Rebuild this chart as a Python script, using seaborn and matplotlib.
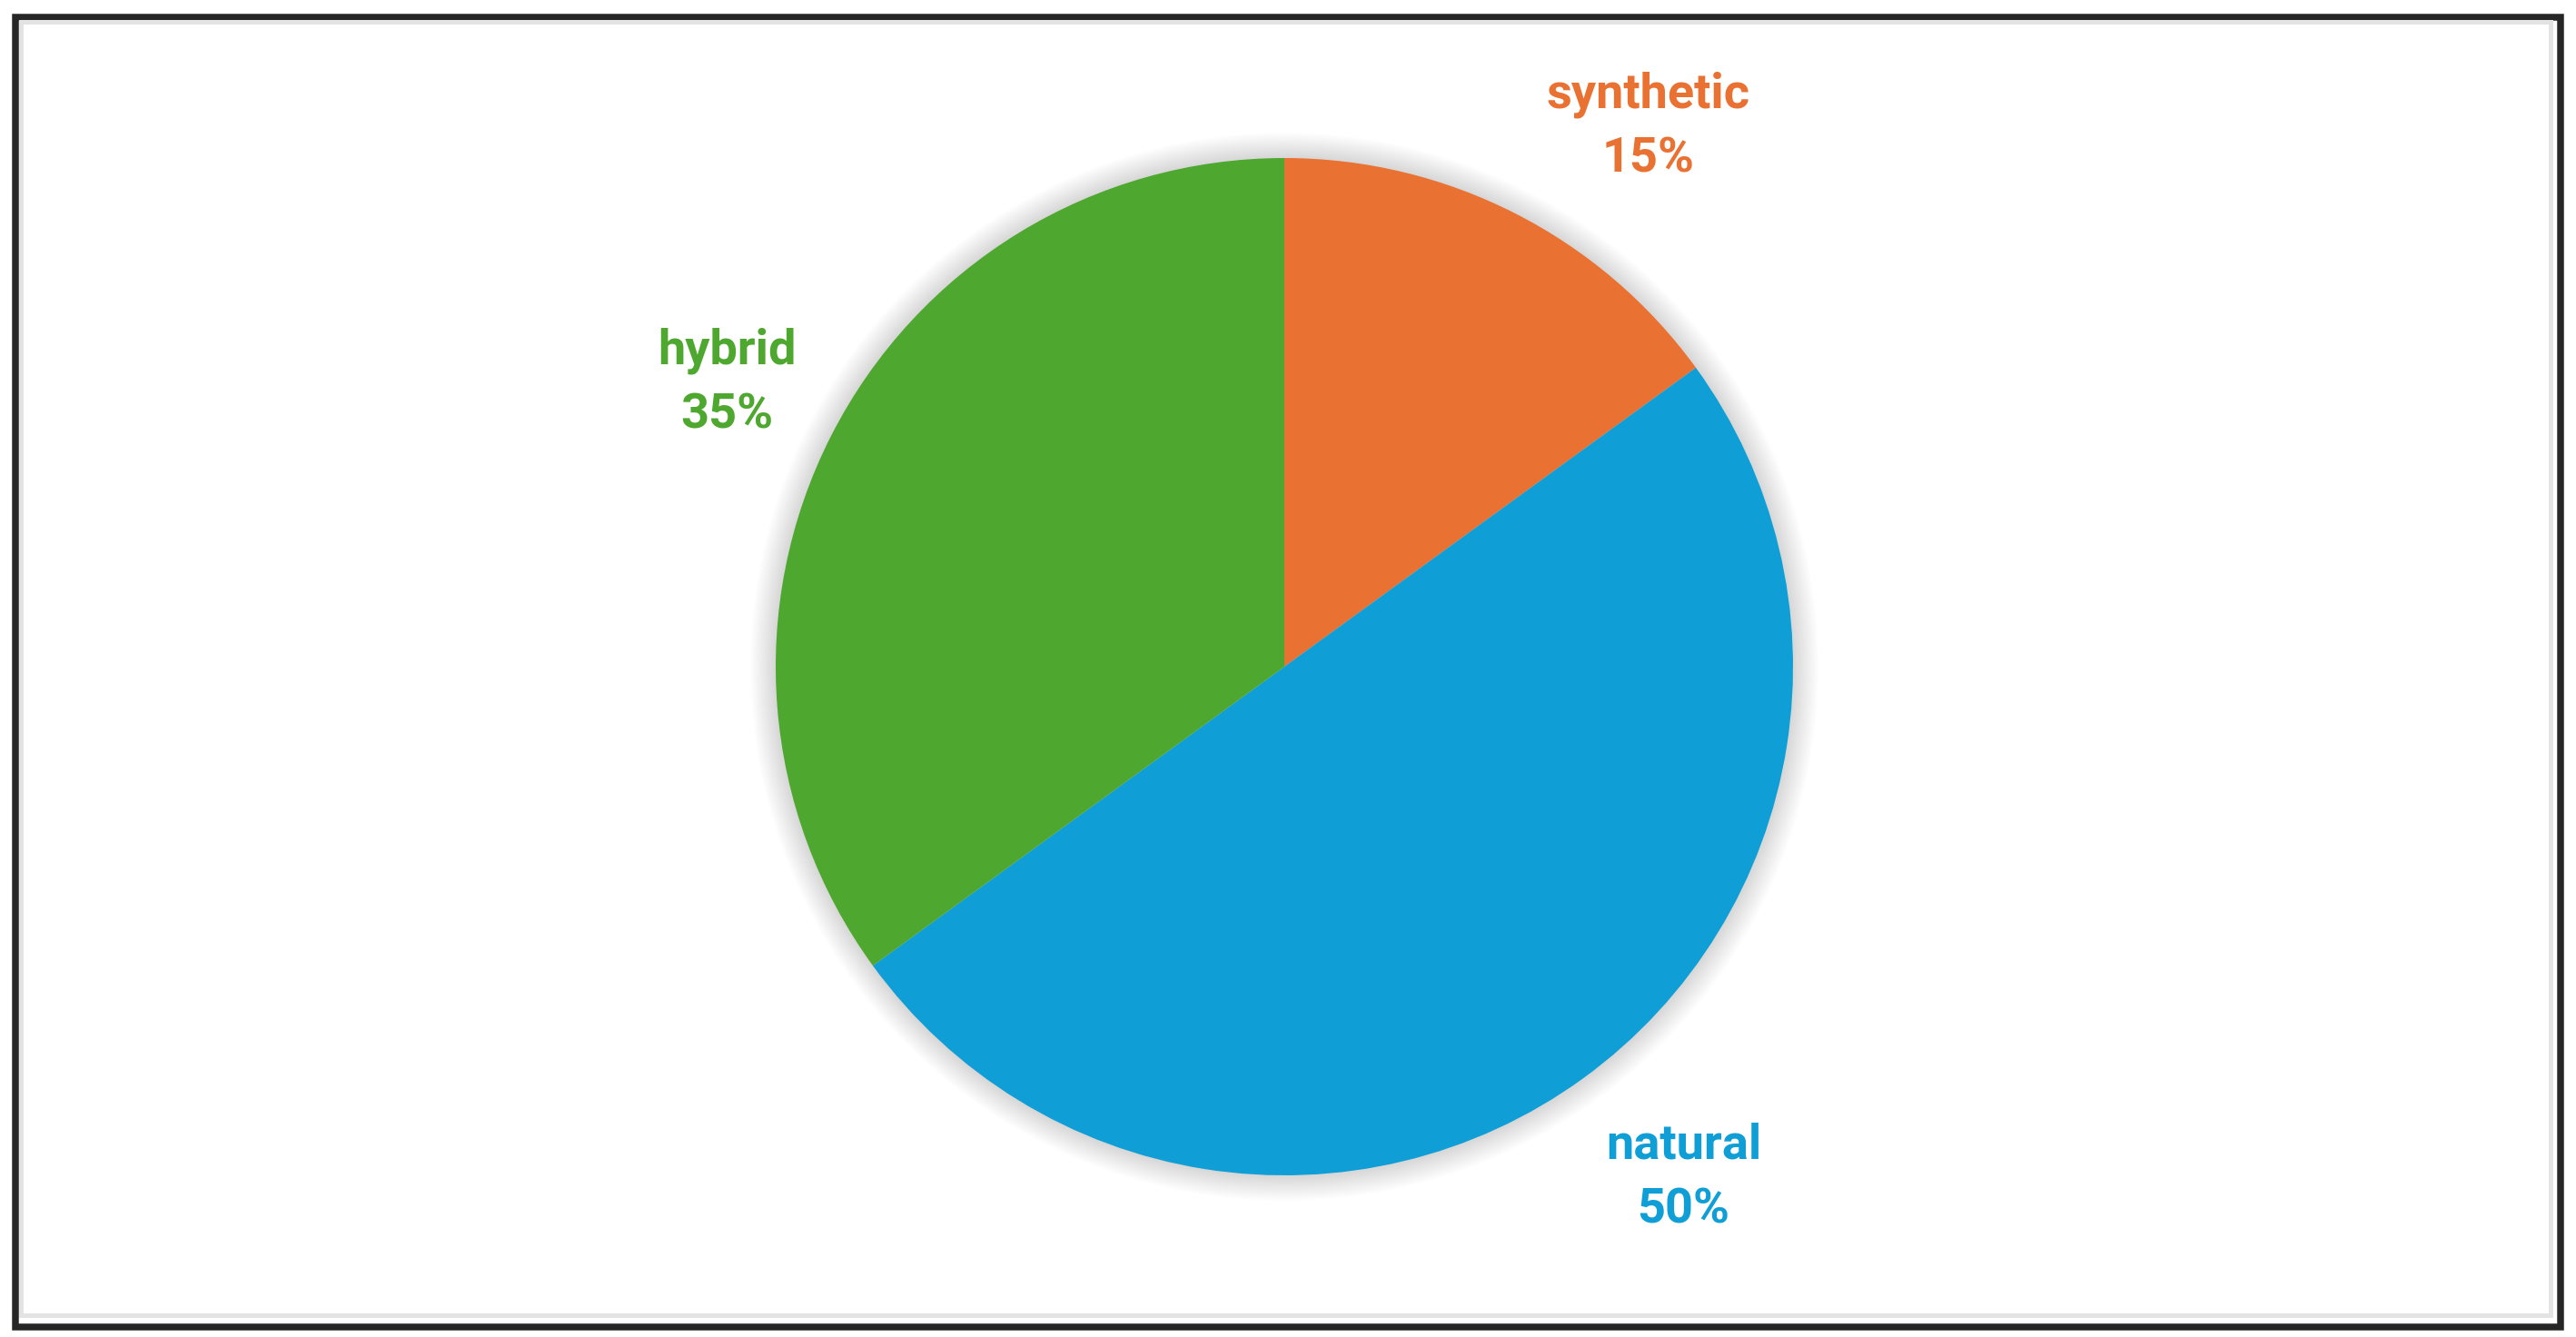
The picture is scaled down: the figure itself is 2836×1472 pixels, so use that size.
import numpy as np
import matplotlib
matplotlib.use("Agg")
import matplotlib.pyplot as plt
import seaborn as sns
from matplotlib.patches import Rectangle, Circle

# ---- data ----
categories = ["synthetic", "natural", "hybrid"]
shares = [15, 50, 35]
colors = ["#E97132", "#0F9ED5", "#4EA72E"]

sns.set_theme(style="white")
plt.rcParams["font.family"] = ["Roboto", "DejaVu Sans"]

W, H, DPI = 2836, 1472, 200
fig = plt.figure(figsize=(W / DPI, H / DPI), dpi=DPI)
fig.patch.set_facecolor("white")

# pie axes: centre at (1414, 734) px from top, radius 560 px
R = 560
cx, cy = 1414, 734
half = R * 1.15
ax = fig.add_axes([(cx - half) / W, (H - cy - half) / H, 2 * half / W, 2 * half / H])

# soft shadow
n = 20
for k in range(n):
    r = 1.0 + 0.05 * (k + 1) / n
    ax.add_patch(Circle((0, 0), r, color="#000000", alpha=0.009, lw=0, zorder=0))

wedges, _ = ax.pie(shares, colors=colors, startangle=90, counterclock=False,
                   radius=1.0, wedgeprops=dict(linewidth=0))
for w in wedges:
    w.set_zorder(2)

ax.set_xlim(-1.15, 1.15)
ax.set_ylim(-1.15, 1.15)
ax.set_aspect("equal")
ax.axis("off")

# data labels
label_dist = [1.28, 1.275, 1.23]
angle_shift = [-7, 2, 0]
for w, cat, val, col, d, s in zip(wedges, categories, shares, colors, label_dist, angle_shift):
    mid = np.deg2rad((w.theta1 + w.theta2) / 2 + s)
    ax.text(d * np.cos(mid), d * np.sin(mid), f"{cat}\n{val}%", color=col,
            fontsize=19.5, fontweight="bold", ha="center", va="center",
            linespacing=1.5, zorder=3)

# frame: dark outer border and light inner line
def px_rect(x0, y0, x1, y1, color, lw_px):
    fig.add_artist(Rectangle((x0 / W, 1 - y1 / H), (x1 - x0) / W, (y1 - y0) / H,
                             transform=fig.transFigure, fill=False,
                             edgecolor=color, linewidth=lw_px * 72 / DPI,
                             joinstyle="miter"))

px_rect(16.5, 18.5, 2819, 1461, "#262626", 7.5)
px_rect(23.5, 24, 2808, 1448, "#E3E3E3", 5)

fig.savefig("out.png", dpi=DPI, facecolor="white")
